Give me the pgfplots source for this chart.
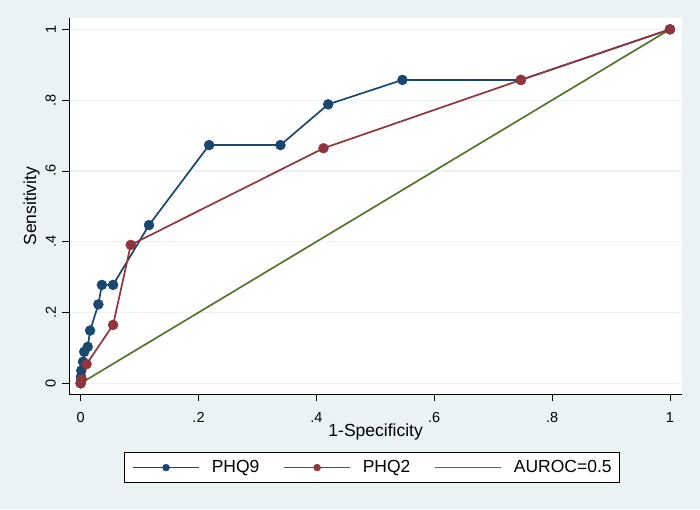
\documentclass[border=0pt]{standalone}
\usepackage{fontspec}
\setmainfont{Liberation Sans}
\usepackage{pgfplots}
\pgfplotsset{compat=1.18}
\definecolor{bgc}{HTML}{EAF2F3}
\definecolor{navy}{HTML}{1A476F}
\definecolor{maroon}{HTML}{90353B}
\definecolor{fgreen}{HTML}{55752F}
\definecolor{gridc}{HTML}{EAF2F3}
\begin{document}
\begin{tikzpicture}
\fill[bgc] (0,0) rectangle (700pt,509pt);
\begin{axis}[
  at={(69.3pt,115pt)}, anchor=south west,
  scale only axis, width=612.7pt, height=375.7pt,
  xmin=-0.0193, xmax=1.0204, ymin=-0.0302, ymax=1.0311,
  axis background/.style={fill=white},
  axis lines*=left,
  axis line style={-, black, line width=0.9pt},
  tick align=outside,
  major tick length=7pt,
  tick style={black, line width=0.8pt},
  xtick={0,0.2,0.4,0.6,0.8,1},
  xticklabels={0,.2,.4,.6,.8,1},
  ytick={0,0.2,0.4,0.6,0.8,1},
  yticklabels={0,.2,.4,.6,.8,1},
  yticklabel style={rotate=90, anchor=south, yshift=3pt},
  xticklabel style={yshift=-8pt},
  ticklabel style={font=\fontsize{14.5}{16}\selectfont},
  ymajorgrids,
  grid style={gridc, line width=1.2pt},
  xlabel={1-Specificity}, ylabel={Sensitivity},
  label style={font=\fontsize{17.5}{19}\selectfont},
  xlabel style={yshift=5.5pt},
  ylabel style={yshift=-1pt},
  legend columns=3,
  legend style={at={(0.494,-0.1552)}, anchor=north, draw=black, line width=0.8pt,
    fill=white, font=\fontsize{17.5}{19}\selectfont,
    nodes={inner xsep=0pt, inner ysep=2pt},
    /tikz/every odd column/.append style={column sep=12pt},
    /tikz/every even column/.append style={column sep=24pt},
    inner xsep=8pt, inner ysep=6pt},
  legend cell align=left,
  legend image code/.code={\draw[mark repeat=2, mark phase=2, mark size=3.5pt, line width=1.4pt] plot coordinates {(0pt,0pt) (33pt,0pt) (66pt,0pt)};},
]
\addplot[fgreen, line width=1.7pt, forget plot] coordinates {(0,0) (1,1)};
\addplot[navy, line width=1.7pt, mark=*, mark size=5pt, mark options={solid, fill=navy, draw=navy, line width=0.4pt}] coordinates {
(0,0) (0.0005,0.009) (0.0005,0.019) (0.001,0.036) (0.004,0.061) (0.006,0.089)
(0.012,0.103) (0.016,0.149) (0.030,0.223) (0.036,0.278) (0.055,0.278)
(0.116,0.447) (0.218,0.673) (0.339,0.673) (0.420,0.788) (0.546,0.857)
(0.747,0.857) (1,1)};
\addlegendentry{PHQ9}
\addplot[maroon, line width=1.7pt, mark=*, mark size=5pt, mark options={solid, fill=maroon, draw=maroon, line width=0.4pt}] coordinates {
(0,0) (0.002,0.011) (0.010,0.054) (0.055,0.165) (0.085,0.391)
(0.412,0.664) (0.747,0.857) (1,1)};
\addlegendentry{PHQ2}
\addlegendimage{fgreen, line width=1.4pt}
\addlegendentry{AUROC=0.5}
\end{axis}
\pgfresetboundingbox
\useasboundingbox (0,0) rectangle (700pt,509pt);
\end{tikzpicture}
\end{document}
